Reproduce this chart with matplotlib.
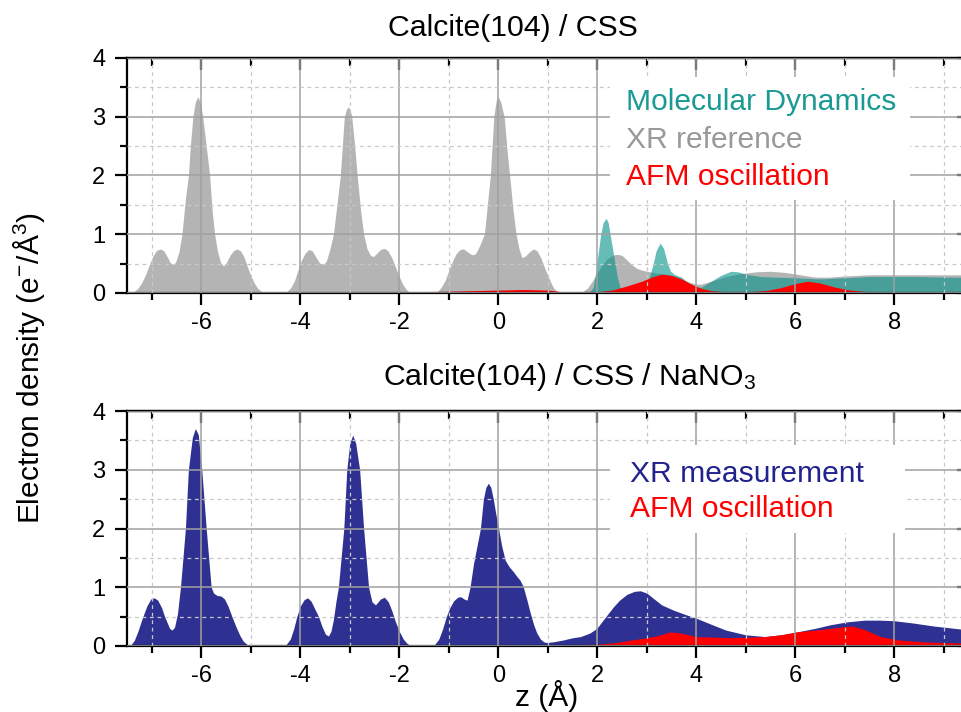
import numpy as np
import matplotlib
matplotlib.use("Agg")
import matplotlib.pyplot as plt
from matplotlib.patches import Rectangle
from matplotlib.ticker import MultipleLocator

plt.rcParams['font.family'] = ['Liberation Sans', 'DejaVu Sans']
plt.rcParams['mathtext.fontset'] = 'custom'
plt.rcParams['mathtext.rm'] = 'Liberation Sans'
plt.rcParams['mathtext.it'] = 'Liberation Sans:italic'
plt.rcParams['mathtext.bf'] = 'Liberation Sans:bold'
plt.rcParams['mathtext.default'] = 'regular'
plt.rcParams['axes.unicode_minus'] = False

# ---- data (z in Angstrom, density in e-/A^3) ----
# top panel: XR reference (gray)
ref_z = [-7.5, -7.42, -7.35, -7.28, -7.2, -7.12, -7.05, -6.98, -6.91, -6.83, -6.76, -6.69, -6.63,
         -6.58, -6.52, -6.45, -6.39, -6.32, -6.26, -6.22, -6.17, -6.12, -6.07, -6.02, -5.97, -5.9,
         -5.83, -5.78, -5.73, -5.67, -5.61, -5.55, -5.49, -5.42, -5.35, -5.28, -5.21, -5.14, -5.07,
         -5.0, -4.93, -4.86, -4.79, -4.72, -4.65,
         -4.35, -4.28, -4.2, -4.12, -4.05, -3.98, -3.9, -3.83, -3.76, -3.69, -3.61, -3.53, -3.47,
         -3.4, -3.33, -3.26, -3.19, -3.11, -3.07, -3.03, -2.99, -2.96, -2.9, -2.85, -2.78, -2.72,
         -2.65, -2.58, -2.52, -2.45, -2.38, -2.3, -2.23, -2.15, -2.08, -2.0, -1.93, -1.86, -1.8,
         -1.72,
         -1.3, -1.22, -1.15, -1.07, -1.0, -0.92, -0.85, -0.77, -0.7, -0.62, -0.55, -0.5, -0.45,
         -0.38, -0.28, -0.22, -0.16, -0.09, -0.04, 0.0, 0.05, 0.12, 0.18, 0.23, 0.3, 0.36, 0.42,
         0.48, 0.55, 0.63, 0.71, 0.78, 0.86, 0.95, 1.05, 1.12, 1.2, 1.3,
         1.6, 1.7, 1.8, 1.9, 2.0, 2.1, 2.2, 2.3, 2.4, 2.5, 2.6, 2.7, 2.8, 2.9, 3.0, 3.2, 3.4, 3.6,
         3.8, 4.0, 4.1, 4.3, 4.6, 4.9, 5.2, 5.5, 5.8, 6.1, 6.4, 6.7, 7.0, 7.5, 8.0, 8.5, 9.0, 9.5]
ref_rho = [0.0, 0.01, 0.03, 0.08, 0.18, 0.32, 0.48, 0.62, 0.72, 0.75, 0.72, 0.62, 0.52,
           0.48, 0.52, 0.7, 1.0, 1.6, 2.0, 2.5, 3.0, 3.25, 3.34, 3.25, 3.0, 2.5,
           2.0, 1.4, 1.0, 0.7, 0.52, 0.46, 0.52, 0.64, 0.72, 0.75, 0.72, 0.62, 0.45,
           0.3, 0.17, 0.08, 0.03, 0.01, 0.0,
           0.0, 0.02, 0.08, 0.2, 0.38, 0.55, 0.68, 0.74, 0.72, 0.62, 0.51, 0.48, 0.55,
           0.75, 1.0, 1.5, 2.0, 3.0, 3.12, 3.17, 3.12, 3.0, 2.5, 2.0, 1.4, 1.0,
           0.75, 0.64, 0.62, 0.68, 0.74, 0.76, 0.72, 0.6, 0.45, 0.28, 0.15, 0.06, 0.02,
           0.0,
           0.0, 0.03, 0.1, 0.22, 0.38, 0.55, 0.67, 0.74, 0.75, 0.7, 0.66, 0.65, 0.68,
           0.8, 1.0, 1.5, 2.0, 3.0, 3.28, 3.34, 3.25, 3.0, 2.4, 2.0, 1.4, 1.0, 0.75,
           0.6, 0.63, 0.7, 0.75, 0.72, 0.6, 0.4, 0.2, 0.08, 0.02, 0.0,
           0.0, 0.02, 0.08, 0.2, 0.35, 0.48, 0.58, 0.64, 0.66, 0.64, 0.56, 0.48, 0.42, 0.39, 0.37, 0.34, 0.32, 0.28,
           0.2, 0.15, 0.15, 0.2, 0.28, 0.33, 0.36, 0.37, 0.35, 0.31, 0.27, 0.27, 0.29, 0.31, 0.31, 0.31, 0.31, 0.31]

# top panel: Molecular Dynamics (teal)
md_z = [-7.5, 1.8, 1.86, 1.92, 1.96, 1.99, 2.03, 2.07, 2.12, 2.18, 2.22, 2.26, 2.31, 2.36, 2.41,
        2.46, 2.52, 2.6, 2.8, 2.95, 3.03, 3.08, 3.13, 3.19, 3.27, 3.34, 3.42, 3.48, 3.55, 3.7,
        3.85, 4.0, 4.1, 4.3, 4.5, 4.7, 4.85, 5.0, 5.3, 5.6, 6.0, 6.5, 7.0, 7.5, 8.0, 8.5, 9.0, 9.5]
md_rho = [0.0, 0.0, 0.03, 0.1, 0.3, 0.5, 0.75, 1.0, 1.2, 1.27, 1.2, 1.0, 0.75, 0.5, 0.25,
          0.1, 0.05, 0.03, 0.04, 0.08, 0.2, 0.35, 0.5, 0.72, 0.85, 0.76, 0.5, 0.37, 0.32, 0.27,
          0.17, 0.1, 0.1, 0.2, 0.3, 0.37, 0.36, 0.32, 0.28, 0.27, 0.26, 0.24, 0.26, 0.28, 0.28, 0.28, 0.27, 0.27]

# top panel: AFM oscillation (red)
afm1_z = [-7.5, -6.0, -4.0, -2.0, -1.0, 0.0, 0.5, 1.0, 1.3, 1.7, 2.0, 2.3, 2.6, 2.9, 3.1, 3.3,
          3.5, 3.7, 3.9, 4.1, 4.3, 4.6, 5.0, 5.4, 5.7, 6.0, 6.25, 6.5, 6.8, 7.1, 7.5, 8.0, 9.5]
afm1_rho = [0.0, 0.01, 0.01, 0.02, 0.03, 0.05, 0.06, 0.05, 0.02, 0.01, 0.02, 0.05, 0.12, 0.2, 0.27, 0.32,
            0.3, 0.24, 0.15, 0.08, 0.04, 0.02, 0.02, 0.04, 0.09, 0.16, 0.2, 0.17, 0.1, 0.05, 0.02, 0.01, 0.0]

# bottom panel: XR measurement (blue)
xr_z = [-7.5, -7.42, -7.35, -7.28, -7.18, -7.1, -7.02, -6.95, -6.88, -6.8, -6.74, -6.69, -6.64,
        -6.59, -6.54, -6.48, -6.42, -6.32, -6.26, -6.18, -6.12, -6.06, -5.99, -5.9, -5.8, -5.75,
        -5.68, -5.6, -5.53, -5.46, -5.38, -5.3, -5.22, -5.15, -5.08, -5.0, -4.9,
        -4.35, -4.28, -4.2, -4.13, -4.07, -4.0, -3.92, -3.85, -3.78, -3.7, -3.63, -3.56, -3.49,
        -3.43, -3.38, -3.33, -3.28, -3.23, -3.12, -3.06, -3.0, -2.94, -2.88, -2.8, -2.72, -2.62,
        -2.55, -2.48, -2.38, -2.3, -2.22, -2.15, -2.08, -2.0, -1.92, -1.85, -1.78, -1.7,
        -1.35, -1.28, -1.2, -1.12, -1.05, -0.98, -0.9, -0.82, -0.76, -0.69, -0.63, -0.57, -0.5,
        -0.43, -0.36, -0.3, -0.25, -0.2, -0.15, -0.1, -0.05, 0.0, 0.07, 0.14, 0.22, 0.3, 0.38,
        0.44, 0.5, 0.58, 0.65, 0.72, 0.78, 0.85, 0.92, 0.98, 1.1, 1.3, 1.5, 1.66, 1.85, 1.99,
        2.1, 2.2, 2.33, 2.45, 2.6, 2.75, 2.87, 3.0, 3.15, 3.3, 3.54, 3.8, 4.01, 4.3, 4.6, 5.0,
        5.4, 5.8, 6.1, 6.4, 6.7, 7.04, 7.4, 7.72, 8.0, 8.39, 8.8, 9.33, 9.5]
xr_rho = [0.0, 0.02, 0.1, 0.25, 0.5, 0.68, 0.8, 0.82, 0.78, 0.65, 0.5, 0.4, 0.3,
          0.27, 0.32, 0.55, 1.0, 2.0, 3.0, 3.55, 3.7, 3.6, 3.0, 2.0, 1.0, 0.9,
          0.86, 0.85, 0.8, 0.68, 0.5, 0.33, 0.18, 0.08, 0.03, 0.01, 0.0,
          0.0, 0.03, 0.12, 0.3, 0.5, 0.68, 0.79, 0.82, 0.76, 0.62, 0.5, 0.33, 0.2,
          0.17, 0.25, 0.45, 0.75, 1.0, 2.0, 3.0, 3.45, 3.59, 3.45, 3.0, 2.0, 1.0,
          0.75, 0.7, 0.8, 0.83, 0.75, 0.6, 0.42, 0.25, 0.12, 0.05, 0.01, 0.0,
          0.0, 0.03, 0.12, 0.3, 0.5, 0.65, 0.77, 0.83, 0.84, 0.8, 0.78, 1.0, 1.4,
          1.7, 2.0, 2.5, 2.7, 2.77, 2.7, 2.5, 2.25, 2.03, 1.7, 1.46, 1.35, 1.27, 1.18,
          1.12, 1.02, 0.78, 0.55, 0.35, 0.22, 0.12, 0.07, 0.06, 0.07, 0.1, 0.14, 0.16, 0.22, 0.3,
          0.42, 0.53, 0.67, 0.78, 0.88, 0.93, 0.94, 0.9, 0.8, 0.7, 0.61, 0.53, 0.47, 0.37, 0.27, 0.19,
          0.16, 0.2, 0.25, 0.3, 0.36, 0.41, 0.44, 0.44, 0.43, 0.39, 0.34, 0.29, 0.27]

# bottom panel: AFM oscillation (red)
afm2_z = [-7.5, -4.3, -4.2, -2.0, 0.0, 1.0, 2.0, 2.4, 2.67, 3.0, 3.2, 3.47, 3.7, 4.0, 4.4, 4.7,
          5.0, 5.36, 5.7, 6.03, 6.4, 6.71, 7.0, 7.15, 7.4, 7.72, 8.12, 8.6, 9.33, 9.5]
afm2_rho = [0.0, 0.0, 0.01, 0.01, 0.01, 0.02, 0.03, 0.06, 0.1, 0.14, 0.17, 0.24, 0.22, 0.16, 0.15, 0.14,
            0.15, 0.16, 0.19, 0.24, 0.27, 0.3, 0.33, 0.34, 0.28, 0.16, 0.1, 0.07, 0.05, 0.05]

x_ticks = [-6, -4, -2, 0, 2, 4, 6, 8]
y_ticks = [0, 1, 2, 3, 4]

c_ref = '#b4b4b4'
c_md = '#00918a'
c_afm = '#ff0000'
c_xr = '#2e3192'

W, H = 961, 712
fig = plt.figure(figsize=(W / 100, H / 100), dpi=100)


def px_axes(left, top, right, bottom):
    return fig.add_axes([left / W, 1 - bottom / H, (right - left) / W, (bottom - top) / H])


def style(ax):
    ax.set_xlim(-7.5, 9.5)
    ax.set_ylim(0, 4)
    ax.set_xticks(x_ticks)
    ax.set_yticks(y_ticks)
    ax.xaxis.set_minor_locator(MultipleLocator(1))
    ax.yaxis.set_minor_locator(MultipleLocator(0.5))
    ax.set_axisbelow(False)
    ax.grid(which='major', color='#a0a0a0', lw=1.1, ls='-')
    ax.grid(which='minor', color='#c8c8c8', lw=0.9, ls=(0, (3, 3)))
    for sp in ax.spines.values():
        sp.set_linewidth(1.6)
    ax.tick_params(which='major', direction='out', length=8.5, width=1.6, labelsize=17,
                   top=False, right=False)
    ax.tick_params(axis='x', which='major', pad=5)
    ax.tick_params(axis='y', which='major', pad=7)
    ax.tick_params(which='minor', direction='out', length=5, width=1.6, top=False, right=False)
    top = ax.secondary_xaxis('top')
    top.set_xticks(x_ticks)
    top.xaxis.set_minor_locator(MultipleLocator(1))
    top.tick_params(which='major', direction='in', length=8.5, width=1.6, labeltop=False)
    top.tick_params(which='minor', direction='in', length=6, width=1.6)
    top.spines['top'].set_linewidth(1.6)
    right = ax.secondary_yaxis('right')
    right.set_yticks(y_ticks)
    right.yaxis.set_minor_locator(MultipleLocator(0.5))
    right.tick_params(which='major', direction='in', length=8.5, width=1.6, labelright=False)
    right.tick_params(which='minor', direction='in', length=6, width=1.6)


def white_box(ax, left, top, right, bottom):
    ax.add_patch(Rectangle((left / W, 1 - bottom / H), (right - left) / W, (bottom - top) / H,
                           transform=fig.transFigure, facecolor='white', edgecolor='none',
                           zorder=3))


# ---- top panel ----
ax1 = px_axes(127, 58, 968.5, 293)
ax1.fill_between(ref_z, ref_rho, color=c_ref, lw=0, zorder=1)
ax1.fill_between(md_z, md_rho, color=c_md, alpha=0.6, lw=0, zorder=1.1)
ax1.fill_between(afm1_z, afm1_rho, color=c_afm, lw=0, zorder=1.2)
white_box(ax1, 610, 77, 910, 200)
style(ax1)

# ---- bottom panel ----
ax2 = px_axes(127, 411, 968.5, 646)
ax2.fill_between(xr_z, xr_rho, color=c_xr, lw=0, zorder=1)
ax2.fill_between(afm2_z, afm2_rho, color=c_afm, lw=0, zorder=1.2)
white_box(ax2, 610, 445, 905, 533)
style(ax2)

# ---- texts ----
fig.text(388 / W, 1 - 36 / H, 'Calcite(104) / CSS', fontsize=21.8, ha='left', va='baseline')
fig.text(383 / W, 1 - 385 / H, 'Calcite(104) / CSS / NaNO$_3$', fontsize=21.8, ha='left', va='baseline')

fig.text(626 / W, 1 - 110 / H, 'Molecular Dynamics', fontsize=21.6, color='#1a9a94', va='baseline')
fig.text(626 / W, 1 - 148 / H, 'XR reference', fontsize=21.6, color='#999999', va='baseline')
fig.text(626 / W, 1 - 185 / H, 'AFM oscillation', fontsize=21.6, color=c_afm, va='baseline')
fig.text(630 / W, 1 - 482 / H, 'XR measurement', fontsize=21.6, color='#22228f', va='baseline')
fig.text(630 / W, 1 - 517 / H, 'AFM oscillation', fontsize=21.6, color=c_afm, va='baseline')

fig.text(29 / W, 1 - 368 / H, 'Electron density (e$^{-}$/Å$^{3}$)', fontsize=21.5,
         rotation=90, ha='center', va='center')
fig.text(547 / W, 1 - 706 / H, 'z (Å)', fontsize=21.5, ha='center', va='baseline')

fig.savefig('out.png', dpi=100)
